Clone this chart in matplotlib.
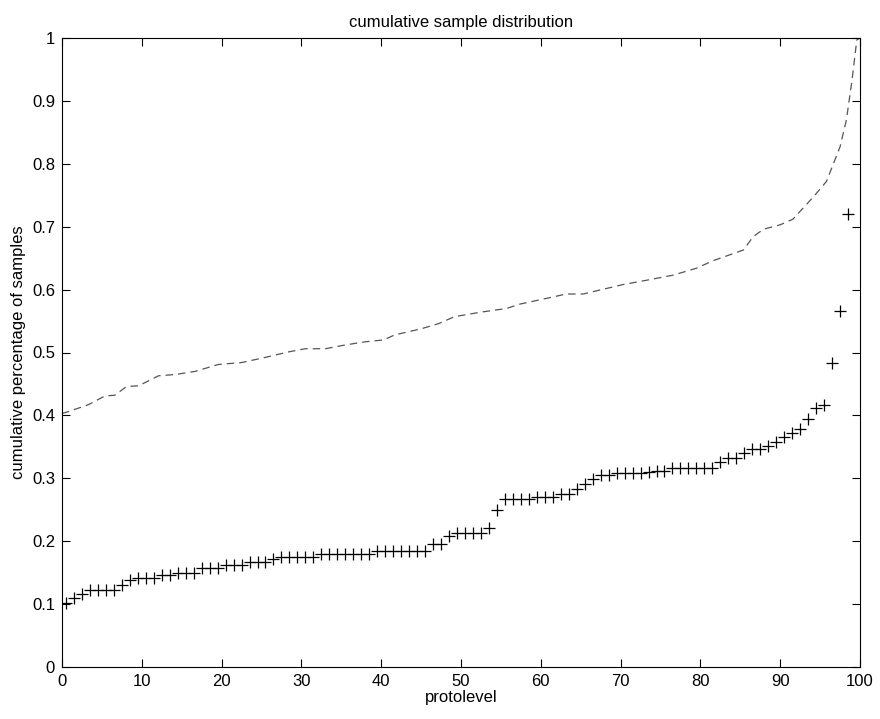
import numpy as np
import matplotlib
matplotlib.use('Agg')
import matplotlib.pyplot as plt

# marker series: one sample per protolevel step
plus_x = np.arange(99) + 0.5
plus_y = [0.101, 0.109, 0.116, 0.122, 0.122, 0.122, 0.122, 0.130, 0.138, 0.141,
          0.141, 0.141, 0.146, 0.146, 0.150, 0.150, 0.150, 0.158, 0.158, 0.158,
          0.162, 0.162, 0.162, 0.167, 0.167, 0.167, 0.172, 0.175, 0.175, 0.175,
          0.175, 0.175, 0.180, 0.180, 0.180, 0.180, 0.180, 0.180, 0.180, 0.185,
          0.185, 0.185, 0.185, 0.185, 0.185, 0.185, 0.195, 0.195, 0.209, 0.213,
          0.213, 0.213, 0.213, 0.221, 0.250, 0.267, 0.267, 0.267, 0.267, 0.271,
          0.271, 0.271, 0.275, 0.275, 0.283, 0.291, 0.299, 0.305, 0.305, 0.309,
          0.309, 0.309, 0.309, 0.310, 0.311, 0.311, 0.316, 0.316, 0.316, 0.316,
          0.316, 0.316, 0.326, 0.333, 0.333, 0.341, 0.346, 0.346, 0.352, 0.358,
          0.365, 0.372, 0.378, 0.395, 0.412, 0.417, 0.483, 0.566, 0.720]

# dashed curve
dash_x = [0.0, 0.8, 3.3, 5.4, 6.6, 8.1, 9.6, 12.1, 14.2, 16.7, 19.6, 22.5,
          25.4, 28.4, 30.5, 33.0, 35.5, 38.0, 40.3, 41.7, 45.1, 47.2, 49.2,
          51.5, 52.4, 55.7, 57.4, 60.7, 63.2, 65.3, 68.3, 70.3, 73.3, 76.6,
          79.5, 81.6, 85.4, 86.6, 87.9, 90.0, 91.6, 94.2, 95.8, 97.5, 98.3,
          99.0, 99.6, 100.0]
dash_y = [0.403, 0.406, 0.417, 0.431, 0.432, 0.446, 0.447, 0.463, 0.465, 0.470,
          0.481, 0.484, 0.492, 0.501, 0.506, 0.506, 0.512, 0.517, 0.520, 0.528,
          0.538, 0.546, 0.557, 0.562, 0.564, 0.570, 0.577, 0.586, 0.593, 0.593,
          0.602, 0.608, 0.615, 0.623, 0.634, 0.646, 0.663, 0.684, 0.696, 0.703,
          0.712, 0.748, 0.772, 0.827, 0.870, 0.933, 0.997, 1.0]

xticks = np.arange(0, 101, 10)
yticks = np.round(np.arange(0, 1.01, 0.1), 1)

plt.rcParams['font.family'] = ['Liberation Sans', 'DejaVu Sans']

fig = plt.figure(figsize=(8.8, 7.19), dpi=100)
ax = fig.add_axes([62 / 880, 52 / 719, 798 / 880, 629 / 719])

ax.plot(dash_x, dash_y, linestyle=(0, (6, 4)), color='#555555', linewidth=0.9)
ax.plot(plus_x, plus_y, linestyle='none', marker='+', markersize=9,
        markeredgewidth=0.9, color='black')

ax.set_xlim(0, 100)
ax.set_ylim(0, 1)
ax.set_xticks(xticks)
ax.set_yticks(yticks)
ax.set_yticklabels(['0' if v == 0 else ('1' if v == 1 else '%g' % v) for v in yticks])
ax.tick_params(direction='in', length=6, width=0.8, top=True, right=True,
               labelsize=12, pad=5)
for s in ax.spines.values():
    s.set_linewidth(0.8)

ax.set_xlabel('protolevel', fontsize=12, labelpad=1)
ax.set_ylabel('cumulative percentage of samples', fontsize=12, labelpad=4)
ax.set_title('cumulative sample distribution', fontsize=12, pad=8)

fig.savefig('out.png', dpi=100)
